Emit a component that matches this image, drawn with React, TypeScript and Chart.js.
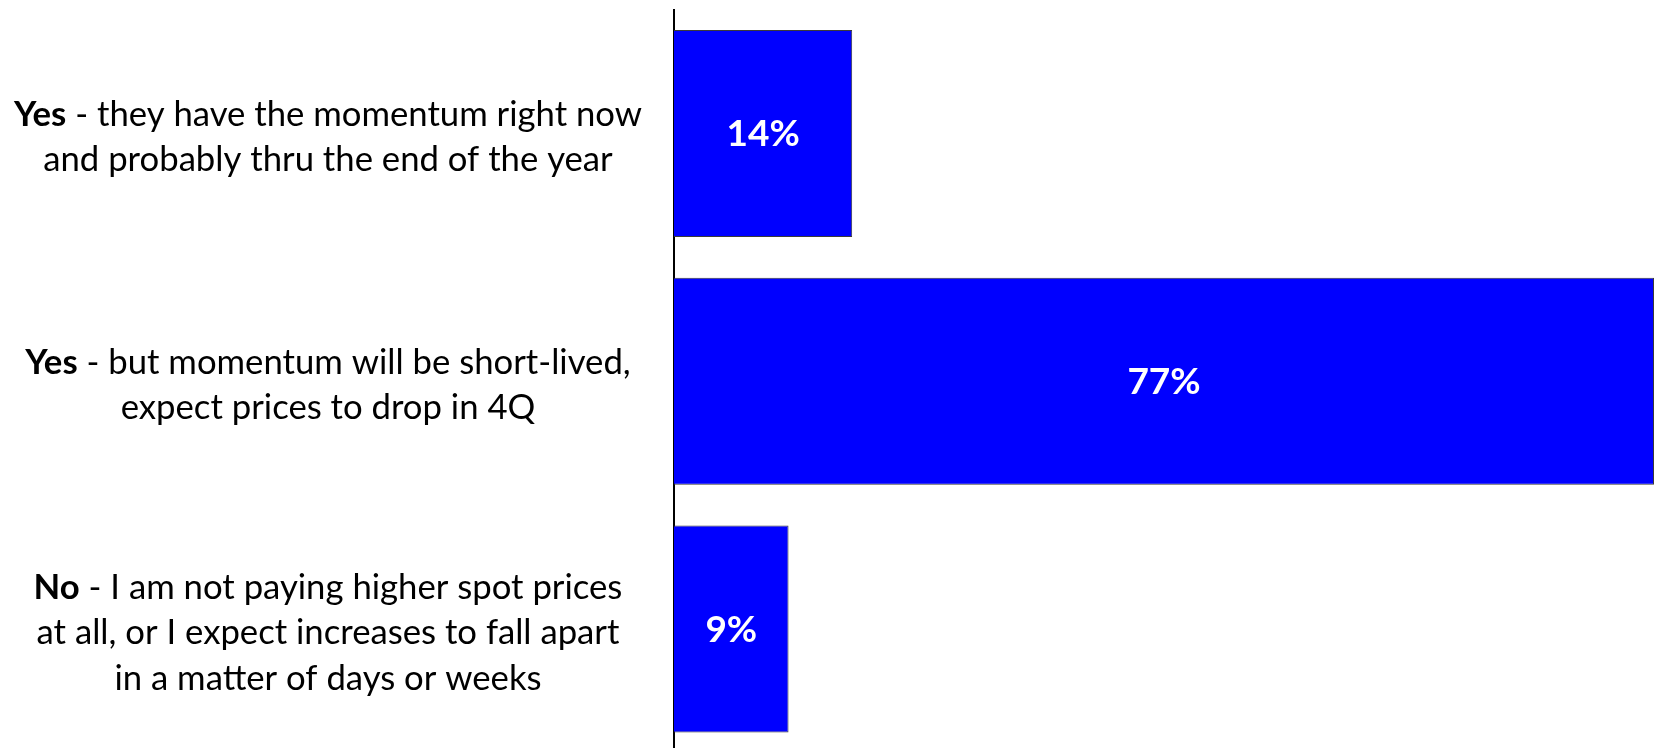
import React, { useEffect, useRef } from "react";
import { Chart, registerables } from "chart.js";

Chart.register(...registerables);

const categories = [
  "Yes - they have the momentum right now and probably thru the end of the year",
  "Yes - but momentum will be short-lived, expect prices to drop in 4Q",
  "No - I am not paying higher spot prices at all, or I expect increases to fall apart in a matter of days or weeks",
];
const labelBold = ["Yes", "Yes", "No"];
const labelLines = [
  [" - they have the momentum right now", "and probably thru the end of the year"],
  [" - but momentum will be short-lived,", "expect prices to drop in 4Q"],
  [" - I am not paying higher spot prices", "at all, or I expect increases to fall apart", "in a matter of days or weeks"],
];
const values = [14, 77, 9];

const FONT = "Lato, 'Open Sans', sans-serif";
const LABEL_SIZE = 34.7;
const LINE_H = 45.5;
const LABEL_CX = 328;

const labelPlugin = {
  id: "customLabels",
  afterDraw(chart: any) {
    const ctx = chart.ctx as CanvasRenderingContext2D;
    const yScale = chart.scales.y;
    ctx.save();
    ctx.textBaseline = "middle";
    ctx.textAlign = "left";
    ctx.fillStyle = "#000000";
    categories.forEach((_, i) => {
      const lines = labelLines[i];
      const cy = yScale.getPixelForValue(i) + 4;
      const startY = cy - ((lines.length - 1) * LINE_H) / 2;
      lines.forEach((line, j) => {
        const y = startY + j * LINE_H;
        const segs: { t: string; b: boolean }[] = [];
        if (j === 0) segs.push({ t: labelBold[i], b: true });
        segs.push({ t: line, b: false });
        let total = 0;
        segs.forEach((s) => {
          ctx.font = `${s.b ? "bold " : ""}${LABEL_SIZE}px ${FONT}`;
          total += ctx.measureText(s.t).width;
        });
        let x = LABEL_CX - total / 2;
        segs.forEach((s) => {
          ctx.font = `${s.b ? "bold " : ""}${LABEL_SIZE}px ${FONT}`;
          ctx.fillText(s.t, x, y);
          x += ctx.measureText(s.t).width;
        });
      });
    });
    // data labels
    const meta = chart.getDatasetMeta(0);
    ctx.textAlign = "center";
    ctx.fillStyle = "#FFFFFF";
    ctx.font = `bold 37px ${FONT}`;
    meta.data.forEach((bar: any, i: number) => {
      const cx = (bar.x + bar.base) / 2;
      ctx.fillText(values[i] + "%", cx, bar.y + 1);
    });
    ctx.restore();
  },
};

export default function App() {
  const ref = useRef<HTMLCanvasElement | null>(null);
  useEffect(() => {
    if (!ref.current) return;
    const chart = new Chart(ref.current, {
      type: "bar",
      data: {
        labels: categories,
        datasets: [
          {
            data: values,
            backgroundColor: "#0000FF",
            borderColor: "#3a3a3a",
            borderWidth: 1,
            borderSkipped: "start",
            categoryPercentage: 1,
            barPercentage: 0.836,
          },
        ],
      },
      options: {
        indexAxis: "y",
        animation: false,
        responsive: false,
        maintainAspectRatio: false,
        layout: { padding: { top: 9.7, bottom: 7.2, left: 0, right: 3 } },
        plugins: {
          legend: { display: false },
          tooltip: { enabled: false },
        },
        scales: {
          x: {
            min: 0,
            max: 77,
            display: false,
          },
          y: {
            ticks: { display: false },
            grid: { display: false },
            border: { display: true, color: "#000000", width: 2 },
            afterFit: (s: any) => {
              s.width = 674;
            },
          },
        },
      },
      plugins: [labelPlugin],
    });
    return () => chart.destroy();
  }, []);
  return (
    <div style={{ position: "fixed", left: 0, top: 0, width: 1657, height: 760, background: "#fff" }}>
      <canvas ref={ref} width={1657} height={760} style={{ display: "block" }} />
    </div>
  );
}
